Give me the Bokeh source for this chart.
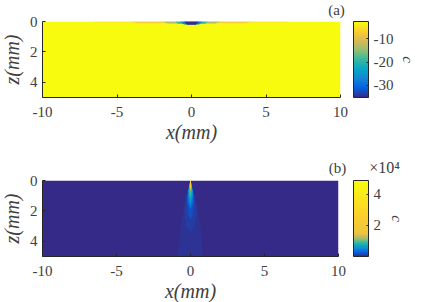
import numpy as np
from bokeh.plotting import figure
from bokeh.layouts import column
from bokeh.models import LinearColorMapper, ColorBar, FixedTicker, Label, ColumnDataSource
from bokeh.embed import file_html
from bokeh.resources import INLINE

# ---- data ----
x_ticks = [-10, -5, 0, 5, 10]
x_labels = ["-10", "-5", "0", "5", "10"]
z_ticks = [0, 2, 4]
z_labels = ["0", "2", "4"]
a_cb_ticks = [-30, -20, -10]
a_cb_labels = ["-30", "-20", "-10"]
b_cb_ticks = [20000, 40000]
b_cb_labels = ["2", "4"]

# panel (a): nested regions near the surface
a_values = [-2.6, -5, -7, -13, -19, -28, -35]
a_xs = [[-10, 10, 10, -10],
        [-6.5, 6.5, 6.5, -6.5],
        [-4.0, 4.0, 3.6, -3.6],
        [-1.9, 1.9, 1.6, -1.6],
        [-1.1, 1.1, 0.9, -0.9],
        [-0.75, 0.75, 0.5, -0.5],
        [-0.5, 0.5, 0.3, -0.3]]
a_zs = [[0, 0, 5, 5],
        [0, 0, 0.07, 0.07],
        [0, 0, 0.12, 0.12],
        [0, 0, 0.13, 0.13],
        [0, 0, 0.15, 0.15],
        [0, 0, 0.2, 0.2],
        [0, 0, 0.22, 0.22]]

# panel (b): plume contours (depth, half width)
b_bg = 100
b_values = [500, 1000, 1700, 3500, 6500, 9000, 15000, 24000, 49000]
b_depth = [[0.15, 0.3, 1.0, 2.0, 3.0, 4.0, 5.0],
           [0.1, 0.3, 1.0, 2.0, 3.0, 3.4],
           [0.1, 0.3, 1.0, 1.5, 2.2, 2.6],
           [0.05, 0.3, 1.0, 1.5, 1.9],
           [0.05, 0.3, 0.7, 1.1, 1.6],
           [0.03, 0.2, 0.5, 0.8, 1.15],
           [0.02, 0.15, 0.4, 0.7],
           [0.01, 0.1, 0.3, 0.45],
           [0.0, 0.1, 0.22]]
b_half = [[0.03, 0.1, 0.33, 0.5, 0.67, 0.78, 0.83],
          [0.02, 0.08, 0.28, 0.42, 0.3, 0.0],
          [0.02, 0.07, 0.23, 0.25, 0.16, 0.0],
          [0.01, 0.06, 0.2, 0.16, 0.0],
          [0.01, 0.06, 0.16, 0.12, 0.0],
          [0.01, 0.05, 0.11, 0.08, 0.0],
          [0.01, 0.04, 0.06, 0.0],
          [0.01, 0.035, 0.03, 0.0],
          [0.02, 0.02, 0.0]]

# colours
PARULA = ["#352A87", "#0363E1", "#1485D4", "#06A7C6", "#38B99E", "#92BF73", "#D9BA56", "#FCCE2E", "#F9FB0E"]
TXT = "#404040"
FONT = "Liberation Serif"


def parula_at(pos):
    stops = np.linspace(0, 1, len(PARULA))
    rgb = np.array([[int(c[i:i + 2], 16) for i in (1, 3, 5)] for c in PARULA])
    return "#%02x%02x%02x" % tuple(int(round(np.interp(pos, stops, rgb[:, k]))) for k in range(3))


pal_a = [parula_at(t) for t in np.linspace(0, 1, 128)]
pal_b = [parula_at(np.interp(t, [0, 0.1, 0.2, 0.3, 1], [0, 0.25, 0.55, 0.82, 1])) for t in np.linspace(0, 1, 128)]


def make_panel(top, frame_w, bottom, xs, zs, vals, mapper, cb_ticks, cb_labels, tag, tag_xy, c_xy):
    p = figure(width=439, height=top + 76 + bottom, frame_width=frame_w, frame_height=76,
               x_range=(-10, 10), y_range=(5, 0), toolbar_location=None, output_backend="svg",
               min_border_left=46, min_border_right=435 - 42 - frame_w, min_border_top=top, min_border_bottom=bottom,
               margin=(0, 0, 0, -4))
    p.outline_line_color = None
    p.grid.visible = False
    p.background_fill_color = None
    p.border_fill_color = None
    src = ColumnDataSource(dict(xs=xs, ys=zs, v=vals))
    p.patches("xs", "ys", source=src, fill_color={"field": "v", "transform": mapper}, line_color=None)

    for ax, ticks, labels in ((p.xaxis[0], x_ticks, x_labels), (p.yaxis[0], z_ticks, z_labels)):
        ax.ticker = FixedTicker(ticks=ticks)
        ax.major_label_overrides = dict(zip(ticks, labels))
        ax.minor_tick_line_color = None
        ax.major_tick_in = 3
        ax.major_tick_out = 0
        ax.axis_line_color = "#262626"
        ax.major_tick_line_color = "#262626"
        ax.major_label_text_font = FONT
        ax.major_label_text_font_size = "15px"
        ax.major_label_text_color = TXT
        ax.axis_label_text_font = FONT
        ax.axis_label_text_font_size = "20px"
        ax.axis_label_text_font_style = "italic"
        ax.axis_label_text_color = TXT
    p.xaxis.axis_label = "x(mm)"
    p.xaxis.major_label_standoff = 9
    p.xaxis.axis_label_standoff = 1
    p.yaxis.axis_label = "z(mm)"
    p.yaxis.major_label_standoff = 5
    p.yaxis.axis_label_standoff = 4

    cb = ColorBar(color_mapper=mapper, ticker=FixedTicker(ticks=cb_ticks),
                  major_label_overrides=dict(zip(cb_ticks, cb_labels)),
                  location=(311, 0), width=15, height=76, padding=0, margin=0,
                  bar_line_color="#262626", major_tick_line_color="#262626",
                  major_tick_in=2, major_tick_out=0, minor_tick_line_color=None,
                  major_label_text_font=FONT, major_label_text_font_size="15px",
                  major_label_text_color=TXT, label_standoff=5, background_fill_color=None)
    p.add_layout(cb, "center")

    p.add_layout(Label(x=tag_xy[0], y=tag_xy[1], x_units="screen", y_units="screen", text=tag,
                       text_font=FONT, text_font_size="15px", text_color=TXT,
                       text_align="center", text_baseline="middle"), "above")
    p.add_layout(Label(x=c_xy[0], y=c_xy[1], x_units="screen", y_units="screen", text="c", angle=-90,
                       angle_units="deg", text_font=FONT, text_font_size="15px", text_font_style="italic",
                       text_color=TXT, text_align="center", text_baseline="middle"), "right")
    return p


mapper_a = LinearColorMapper(palette=pal_a, low=-35.2, high=-2.6)
mapper_b = LinearColorMapper(palette=pal_b, low=0, high=49000)

pa = make_panel(21, 302, 53, a_xs, a_zs, a_values, mapper_a, a_cb_ticks, a_cb_labels,
                "(a)", (294, 12), (67, 38))

# panel (b) polygons are built from the listed contours, mirrored about x=0
b_xs = [[-10, 10, 10, -10]]
b_zs = [[0, 0, 5, 5]]
for d, h in zip(b_depth, b_half):
    b_xs.append([-v for v in h] + [v for v in reversed(h)])
    b_zs.append(list(d) + list(reversed(d)))

pb = make_panel(30, 300, 44, b_xs, b_zs, [b_bg] + b_values, mapper_b, b_cb_ticks, b_cb_labels,
                "(b)", (295, 13), (58, 38))
pb.add_layout(Label(x=30, y=89, x_units="screen", y_units="screen", text="×10⁴",
                    text_font=FONT, text_font_size="16px", text_color=TXT,
                    text_align="center", text_baseline="middle"), "right")

layout = column(pa, pb, spacing=0)
open("out.html", "w").write(file_html(layout, INLINE))
